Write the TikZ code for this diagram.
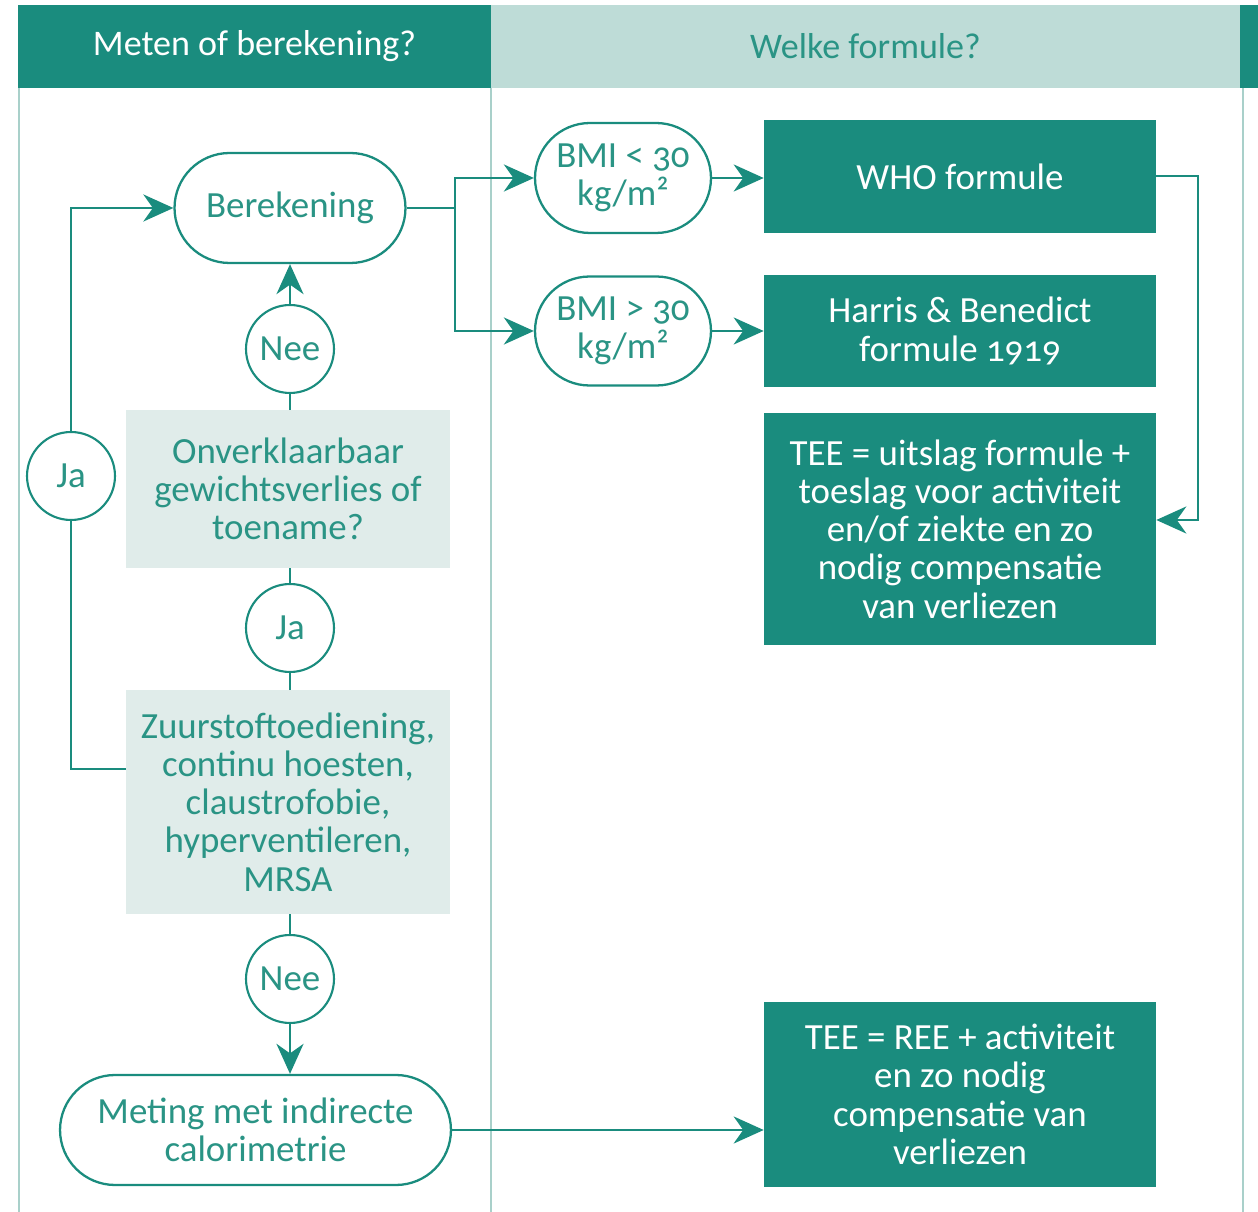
\documentclass[tikz,border=0pt]{standalone}
\usepackage{fontspec}
\setmainfont{Carlito}[Numbers=OldStyle]
\usepackage{tikz}
\usetikzlibrary{arrows.meta,shapes.misc}
\definecolor{tealD}{HTML}{1A8C7E}
\definecolor{tealL}{HTML}{BEDCD7}
\definecolor{tealF}{HTML}{E0ECEA}
\definecolor{tealR}{HTML}{A9D0CA}
\definecolor{tealT}{HTML}{2A9485}
\tikzset{
  hdr/.style  ={inner sep=0pt,minimum height=1.66cm,font=\fontsize{20.5}{22}\selectfont},
  stad/.style ={draw=tealD,rounded rectangle,line width=1.3pt,fill=white,text=tealT,
                align=center,inner sep=0pt,font=\fontsize{21}{21.8}\selectfont},
  ans/.style  ={draw=tealD,circle,line width=1.2pt,fill=white,text=tealT,
                minimum size=1.76cm,inner sep=0pt,font=\fontsize{21}{21.8}\selectfont},
  ask/.style  ={fill=tealF,text=tealT,align=center,inner sep=0pt,minimum width=6.48cm,
                font=\fontsize{21}{21.8}\selectfont},
  res/.style  ={fill=tealD,text=white,align=center,inner sep=0pt,minimum width=7.84cm,
                font=\fontsize{21}{21.8}\selectfont},
  ln/.style   ={draw=tealD,line width=1.6pt},
  ar/.style   ={ln,-{Stealth[length=6mm,width=5.4mm,inset=1.9mm]}},
  col/.style  ={draw=tealR,line width=1pt},
}
\begin{document}
\begin{tikzpicture}[x=0.02cm,y=-0.02cm]
  \useasboundingbox (0,0) rectangle (1258,1212);
  % kolommen
  \draw[col] (19,88) -- (19,1212);
  \draw[col] (491,5) -- (491,1212);
  \draw[col] (1243,88) -- (1243,1212);
  \node[hdr,fill=tealD,text=white,minimum width=9.46cm] (h1) at (254.5,46.5) {Meten of berekening?};
  \node[hdr,fill=tealL,text=tealT,minimum width=14.98cm] (h2) at (865.5,46.5) {Welke formule?};
  \fill[tealD] (1240,5) rectangle (1258,88);

  % links
  \node[stad,minimum width=4.62cm,minimum height=2.2cm] (berek) at (290,208) {Berekening};
  \node[ask,minimum height=3.16cm] (onv) at (288,489) {Onverklaarbaar\\gewichtsverlies of\\toename?};
  \node[ask,minimum height=4.48cm] (zuur) at (288,802) {Zuurstoftoediening,\\continu hoesten,\\claustrofobie,\\hyperventileren,\\MRSA};
  \node[stad,minimum width=7.82cm,minimum height=2.2cm] (meting) at (255.5,1130) {Meting met indirecte\\calorimetrie};
  \node[ans] (nee1) at (290,349) {Nee};
  \node[ans] (ja1) at (290,628) {Ja};
  \node[ans] (nee2) at (290,979) {Nee};
  \node[ans] (ja2) at (71,476) {Ja};

  % rechts
  \node[stad,minimum width=3.52cm,minimum height=2.2cm] (bmi1) at (623,178) {BMI < 30\\kg/m²};
  \node[stad,minimum width=3.52cm,minimum height=2.18cm] (bmi2) at (623,331) {BMI > 30\\kg/m²};
  \node[res,minimum height=2.26cm] (who) at (960,176.5) {WHO formule};
  \node[res,minimum height=2.24cm] (harris) at (960,331) {Harris \& Benedict\\formule 1919};
  \node[res,minimum height=4.64cm] (tee1) at (960,529) {TEE = uitslag formule +\\toeslag voor activiteit\\en/of ziekte en zo\\nodig compensatie\\van verliezen};
  \node[res,minimum height=3.7cm] (tee2) at (960,1094.5) {TEE = REE + activiteit\\en zo nodig\\compensatie van\\verliezen};

  \coordinate (split) at (455,208);
  \coordinate (loop) at (1198,176);

  % verbindingen
  \draw[ar] (nee1 |- onv.north) -- (nee1) -- (berek.south);
  \draw[ln] (ja1 |- onv.south) -- (ja1) -- (ja1 |- zuur.north);
  \draw[ar] (nee2 |- zuur.south) -- (nee2) -- (nee2 |- meting.north);
  \draw[ar] (zuur.west |- 0,769) -| (ja2) -- (ja2 |- berek.west) -- (berek.west);
  \draw[ln] (berek.east) -- (split);
  \draw[ar] (split) |- (bmi1.west);
  \draw[ar] (split) |- (bmi2.west);
  \draw[ar] (bmi1.east) -- (bmi1.east -| who.west);
  \draw[ar] (bmi2.east) -- (bmi2.east -| harris.west);
  \draw[ar] (who.east |- loop) -- (loop) |- (tee1.east |- 0,520);
  \draw[ar] (meting.east) -- (meting.east -| tee2.west);
\end{tikzpicture}
\end{document}
